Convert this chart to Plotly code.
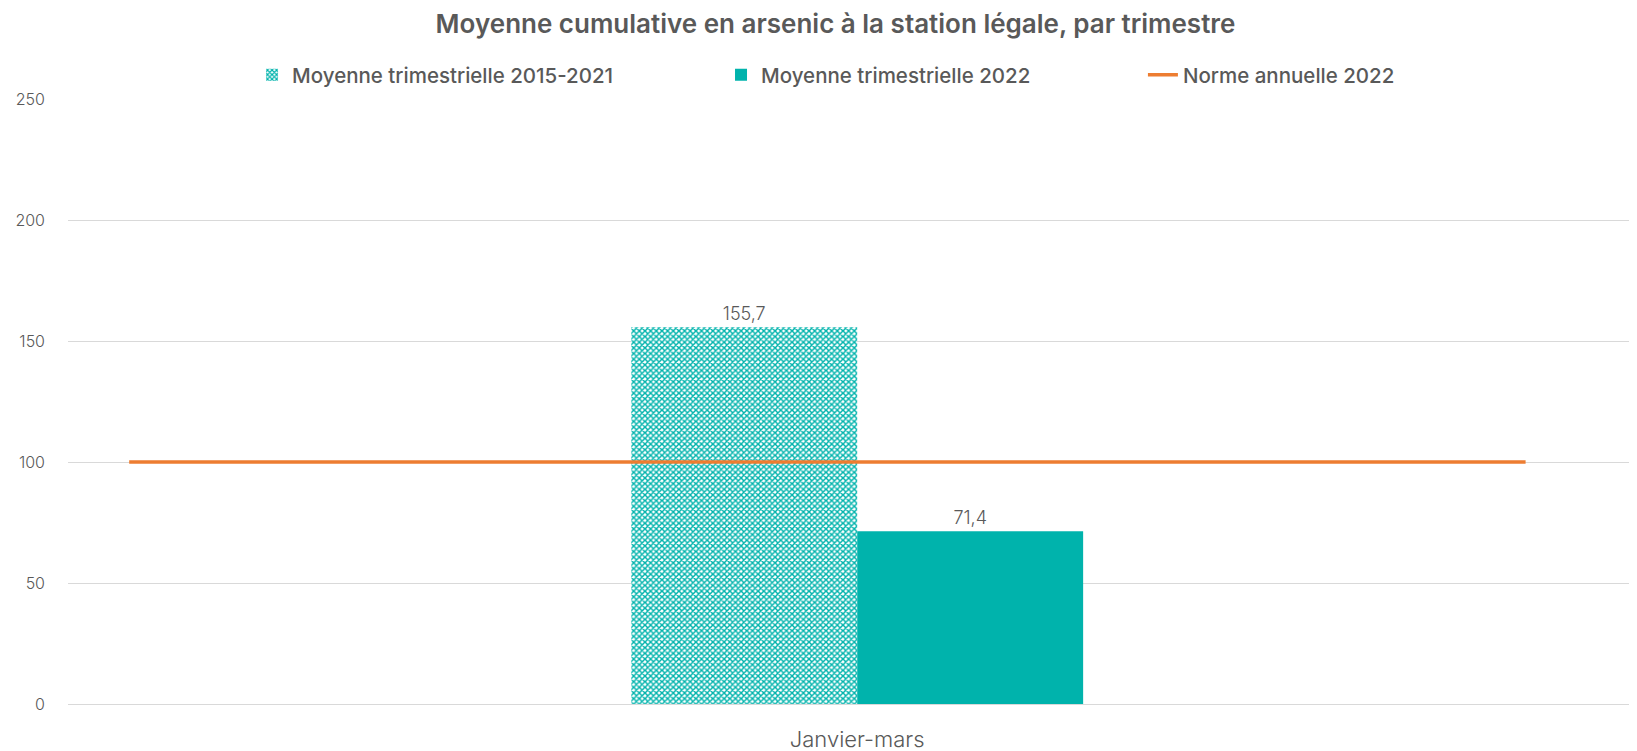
import plotly.graph_objects as go

categories = ["Janvier-mars"]
hist_values = [155.7]
cur_values = [71.4]
norm_values = [100, 100]
norm_x = [0.039, 0.929]
y_ticks = [0, 50, 100, 150, 200, 250]

teal = "#00B3AC"
gray = "#595959"
font_family = "Inter, 'Open Sans', sans-serif"

fig = go.Figure()
fig.add_trace(go.Bar(
    x=categories, y=hist_values, name="Moyenne trimestrielle 2015-2021",
    marker=dict(color="white", line=dict(width=0),
                pattern=dict(shape="x", fgcolor=teal, bgcolor="white", size=4, solidity=0.6, fillmode="replace")),
    text=[f"{v:.1f}".replace(".", ",") for v in hist_values], textposition="outside",
    textfont=dict(size=18, color=gray, weight=300), cliponaxis=False, legend="legend",
))
fig.add_trace(go.Bar(
    x=categories, y=cur_values, name="Moyenne trimestrielle 2022",
    marker=dict(color=teal, line=dict(width=0)),
    text=[f"{v:.1f}".replace(".", ",") for v in cur_values], textposition="outside",
    textfont=dict(size=18, color=gray, weight=300), cliponaxis=False, legend="legend2",
))
fig.add_trace(go.Scatter(
    x=norm_x, y=norm_values, name="Norme annuelle 2022", mode="lines",
    line=dict(color="#ED7D31", width=3.5), xaxis="x2", legend="legend3",
))

leg_common = dict(orientation="h", y=1.04, yanchor="middle", xanchor="left",
                  font=dict(size=20.5, color=gray, weight=500), itemwidth=30,
                  bgcolor="rgba(0,0,0,0)")

fig.update_layout(
    width=1629, height=743,
    paper_bgcolor="white", plot_bgcolor="white",
    margin=dict(l=60, r=0, t=91, b=47),
    font=dict(family=font_family, color=gray),
    title=dict(text="Moyenne cumulative en arsenic à la station légale, par trimestre",
               x=0.508, xanchor="center", y=0.978, yanchor="middle",
               font=dict(size=26, color=gray, weight=600)),
    barmode="group", bargap=0.712, bargroupgap=0,
    legend=dict(x=0.1173, **leg_common),
    legend2=dict(x=0.4162, **leg_common),
    legend3=dict(x=0.6851, **leg_common),
    xaxis=dict(range=[-0.503, 0.497], showgrid=False, showline=True, linecolor="#D9D9D9", linewidth=1,
               tickfont=dict(size=22, color=gray, weight=300), ticks="", ticklabelstandoff=16),
    xaxis2=dict(overlaying="x", range=[0, 1], visible=False),
    yaxis=dict(range=[0, 250], tickvals=y_ticks, showgrid=True, gridcolor="#D9D9D9",
               gridwidth=1, zeroline=False, tickfont=dict(size=16, color=gray, weight=300),
               ticklabelstandoff=22),
    showlegend=True,
)

fig.write_html("out.html")
